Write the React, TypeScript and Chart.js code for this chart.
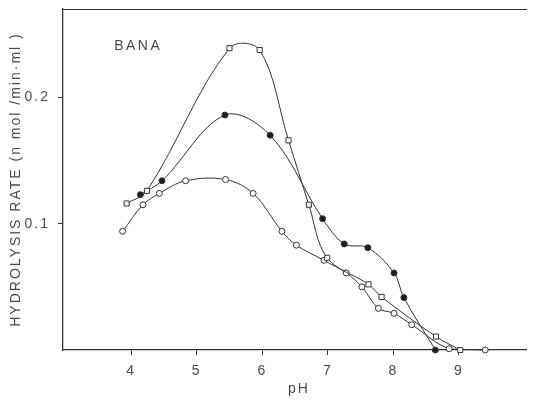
import React, { useEffect, useRef } from "react";
import { Chart, registerables } from "chart.js";

Chart.register(...registerables);

// Open squares
const squarePH = [3.93, 4.24, 5.5, 5.96, 6.4, 6.71, 6.99, 7.62, 7.82, 8.65, 9.02];
const squareRate = [0.116, 0.126, 0.239, 0.2375, 0.166, 0.115, 0.073, 0.052, 0.042, 0.0106, 0.0];

// Filled circles
const filledPH = [4.14, 4.47, 5.43, 6.12, 6.92, 7.25, 7.61, 8.01, 8.16, 8.64];
const filledRate = [0.123, 0.134, 0.186, 0.17, 0.104, 0.084, 0.081, 0.061, 0.0415, 0.0];

// Open circles
const openPH = [3.87, 4.18, 4.43, 4.83, 5.44, 5.86, 6.3, 6.52, 6.94, 7.28, 7.52, 7.77, 8.01, 8.28, 8.85, 9.4];
const openRate = [0.094, 0.115, 0.124, 0.134, 0.135, 0.124, 0.094, 0.083, 0.071, 0.061, 0.05, 0.033, 0.029, 0.02, 0.001, 0.0];

const xTicks = [4, 5, 6, 7, 8, 9];
const yTicks = [0.1, 0.2];

const LABEL = "BANA";
const X_TITLE = "pH";
const Y_TITLE = "HYDROLYSIS RATE (n mol /min·ml )";

const FONT = '"Liberation Sans", Arial, sans-serif';
const INK = "#333333";
const TEXT = "#4a4a4a";

const toPoints = (xs: number[], ys: number[]) => xs.map((x, i) => ({ x, y: ys[i] }));

const framePlugin = {
  id: "frame",
  beforeInit(chart: any) {
    (chart.ctx as any).letterSpacing = "2px";
  },
  beforeDraw(chart: any) {
    (chart.ctx as any).letterSpacing = "2px";
  },
  afterDraw(chart: any) {
    const { ctx, chartArea, scales } = chart;
    ctx.save();
    ctx.strokeStyle = INK;
    ctx.lineWidth = 1.2;
    ctx.beginPath();
    ctx.moveTo(chartArea.left, chartArea.top + 0.5);
    ctx.lineTo(chart.width, chartArea.top + 0.5);
    ctx.stroke();
    ctx.font = `14px ${FONT}`;
    ctx.fillStyle = TEXT;
    ctx.textBaseline = "middle";
    ctx.textAlign = "left";
    (ctx as any).letterSpacing = "2.5px";
    ctx.fillText(LABEL, scales.x.getPixelForValue(3.74), scales.y.getPixelForValue(0.2405));
    ctx.restore();
  },
};

export default function App() {
  const ref = useRef<HTMLCanvasElement | null>(null);

  useEffect(() => {
    if (!ref.current) return;
    document.documentElement.style.overflow = "hidden";
    const common = {
      borderColor: INK,
      borderWidth: 1,
      tension: 0.35,
      pointBorderColor: INK,
      pointBorderWidth: 1,
      showLine: true,
      clip: false as any,
    };
    const chart = new Chart(ref.current, {
      type: "scatter",
      data: {
        datasets: [
          {
            ...common,
            label: "squares",
            data: toPoints(squarePH, squareRate),
            pointStyle: "rect",
            pointRadius: 3.6,
            pointBackgroundColor: "#ffffff",
          },
          {
            ...common,
            label: "filled",
            data: toPoints(filledPH, filledRate),
            pointStyle: "circle",
            pointRadius: 3,
            pointBackgroundColor: "#1e1e1e",
          },
          {
            ...common,
            label: "open",
            data: toPoints(openPH, openRate),
            pointStyle: "circle",
            pointRadius: 3,
            pointBackgroundColor: "#ffffff",
          },
        ],
      },
      options: {
        animation: false,
        responsive: true,
        maintainAspectRatio: false,
        layout: { autoPadding: false, padding: { top: 1, right: 0, left: 0, bottom: 0 } },
        plugins: {
          legend: { display: false },
          tooltip: { enabled: false },
        },
        scales: {
          x: {
            type: "linear",
            min: 2.96,
            max: 10.16,
            afterBuildTicks: (s: any) => {
              s.ticks = xTicks.map((v) => ({ value: v }));
            },
            afterFit: (s: any) => {
              s.height = 50;
              s.paddingLeft = 0;
              s.paddingRight = 0;
            },
            grid: {
              display: true,
              drawOnChartArea: false,
              drawTicks: true,
              tickLength: 5,
              color: INK,
            },
            border: { display: true, color: INK, width: 1.3 },
            ticks: {
              color: TEXT,
              font: { family: FONT, size: 14 },
              padding: 8,
              maxRotation: 0,
              callback: (v: any) => String(v),
            },
            title: {
              display: true,
              text: X_TITLE,
              color: TEXT,
              font: { family: FONT, size: 14 },
              padding: { top: 0, bottom: 2 },
            },
          },
          y: {
            type: "linear",
            min: 0,
            max: 0.27,
            afterBuildTicks: (s: any) => {
              s.ticks = yTicks.map((v) => ({ value: v }));
            },
            afterFit: (s: any) => {
              s.width = 55;
              s.paddingTop = 0;
              s.paddingBottom = 0;
            },
            grid: {
              display: true,
              drawOnChartArea: false,
              drawTicks: true,
              tickLength: 5,
              color: INK,
            },
            border: { display: true, color: INK, width: 1.3 },
            ticks: {
              color: TEXT,
              font: { family: FONT, size: 14 },
              padding: 8,
              callback: (v: any) => Number(v).toFixed(1),
            },
            title: {
              display: true,
              text: Y_TITLE,
              color: TEXT,
              font: { family: FONT, size: 14 },
              padding: { top: 0, bottom: 0 },
            },
          },
        },
      },
      plugins: [framePlugin],
    });
    return () => chart.destroy();
  }, []);

  return (
    <div style={{ width: 527, height: 392, position: "relative" }}>
      <canvas ref={ref} />
    </div>
  );
}
